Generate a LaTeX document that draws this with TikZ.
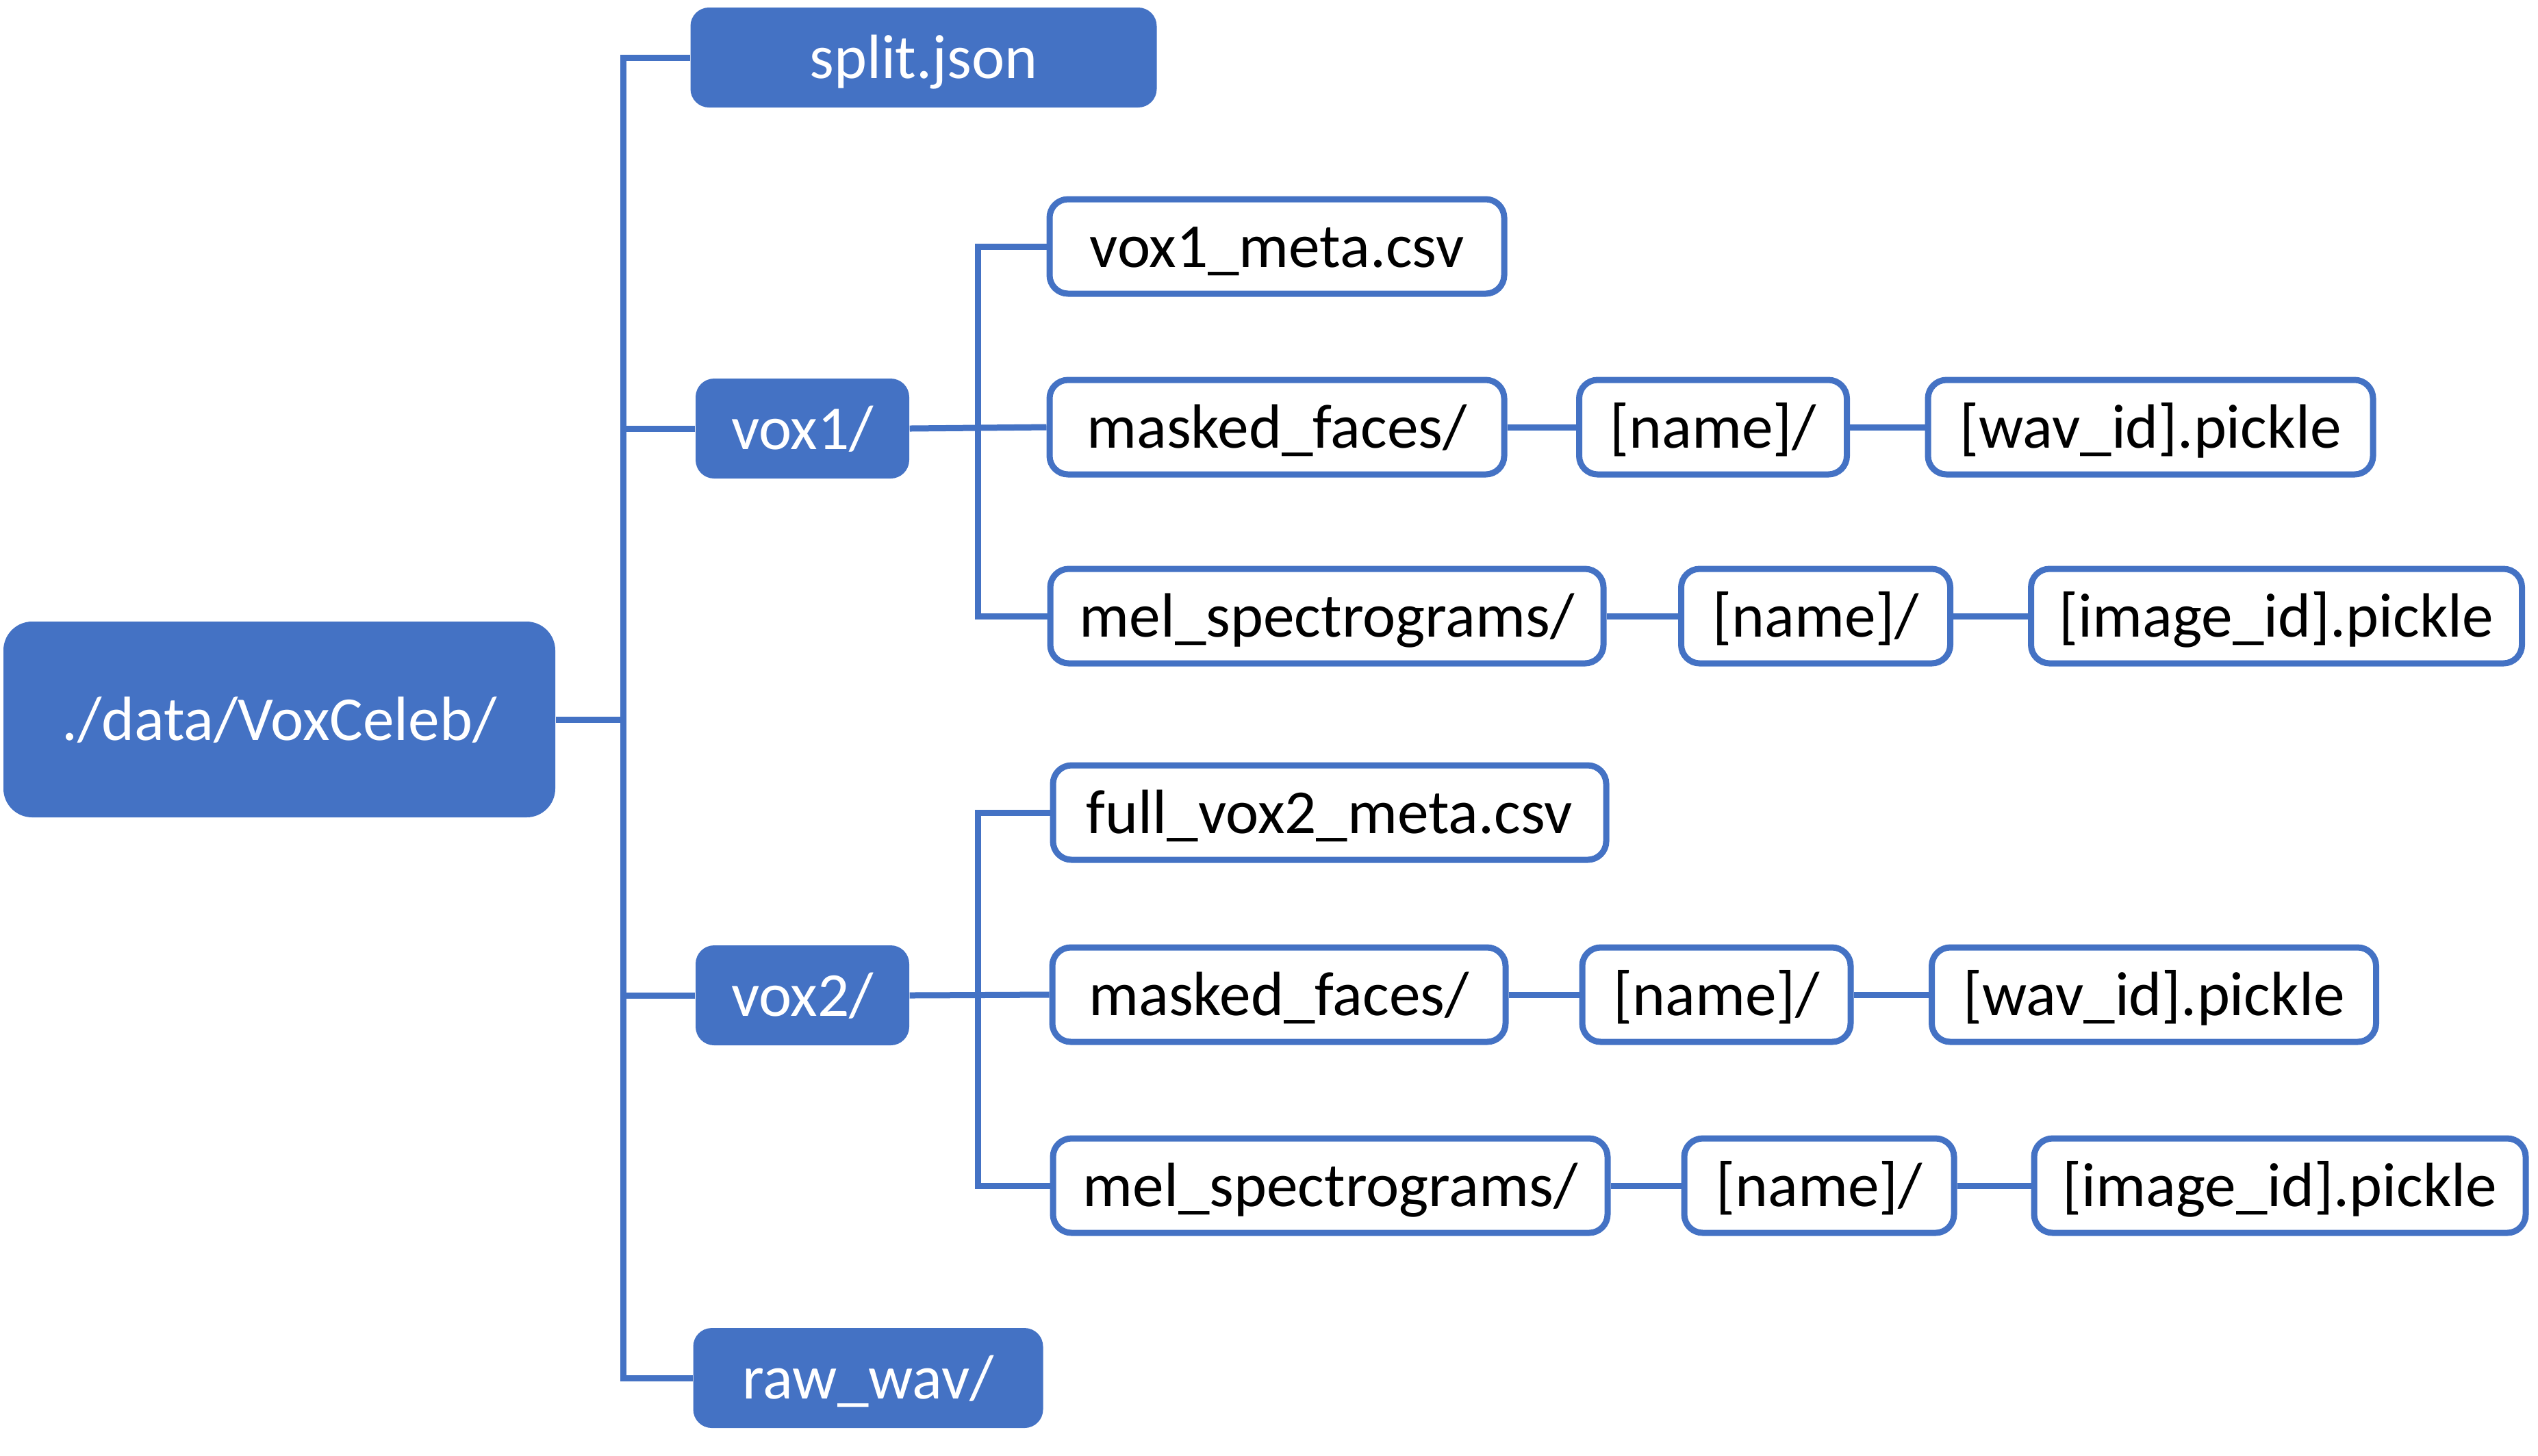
\documentclass[tikz,border=0pt]{standalone}
\usepackage{fontspec}
\setmainfont{Carlito}
\usepackage{tikz}
\usetikzlibrary{calc}
\definecolor{dirblue}{HTML}{4472C4}
\tikzset{
	conn/.style={draw=dirblue, line width=0.09cm},
	dirbox/.style={fill=dirblue, draw=none, rounded corners=0.27cm, text=white, inner sep=0pt, minimum height=1.46cm, text height=0.78cm, text depth=0.18cm},
	filebox/.style={fill=white, draw=dirblue, line width=0.09cm, rounded corners=0.27cm, text=black, inner sep=0pt, minimum height=1.38cm, text height=0.78cm, text depth=0.18cm}
}

\begin{document}
\begin{tikzpicture}[font=\fontsize{26}{31}\selectfont]
		%%%%% START %%%%%
		\useasboundingbox (0, 0) rectangle (37.07, -21.26);
		
		\node[dirbox, minimum width=8.06cm, minimum height=2.86cm, rounded corners=0.42cm] (root) at (4.08, -10.51) {./data/VoxCeleb/};
		
		\node[dirbox, minimum width=6.81cm] (split) at (13.49, -0.84) {split.json};
		\node[dirbox, minimum width=3.12cm] (vox1) at (11.72, -6.26) {vox1/};
		\node[dirbox, minimum width=3.12cm] (vox2) at (11.72, -14.54) {vox2/};
		\node[dirbox, minimum width=5.11cm] (rawwav) at (12.68, -20.13) {raw\_wav/};
		
		\node[filebox, minimum width=6.64cm] (meta1) at (18.65, -3.60) {vox1\_meta.csv};
		\node[filebox, minimum width=6.64cm] (masked1) at (18.65, -6.24) {masked\_faces/};
		\node[filebox, minimum width=3.91cm] (name1) at (25.02, -6.24) {[name]/};
		\node[filebox, minimum width=6.50cm] (wav1) at (31.41, -6.24) {[wav\_id].pickle};
		\node[filebox, minimum width=8.08cm] (mel1) at (19.38, -9.00) {mel\_spectrograms/};
		\node[filebox, minimum width=3.93cm] (name2) at (26.52, -9.00) {[name]/};
		\node[filebox, minimum width=7.17cm] (img1) at (33.25, -9.00) {[image\_id].pickle};
		
		\node[filebox, minimum width=8.08cm] (meta2) at (19.42, -11.87) {full\_vox2\_meta.csv};
		\node[filebox, minimum width=6.62cm] (masked2) at (18.68, -14.53) {masked\_faces/};
		\node[filebox, minimum width=3.92cm] (name3) at (25.07, -14.53) {[name]/};
		\node[filebox, minimum width=6.49cm] (wav2) at (31.46, -14.53) {[wav\_id].pickle};
		\node[filebox, minimum width=8.10cm] (mel2) at (19.43, -17.32) {mel\_spectrograms/};
		\node[filebox, minimum width=3.94cm] (name4) at (26.57, -17.32) {[name]/};
		\node[filebox, minimum width=7.18cm] (img2) at (33.30, -17.32) {[image\_id].pickle};
		
		% trunks
		\coordinate (tr) at (9.10, 0);
		\coordinate (sa) at (14.28, 0);
		
		\draw[conn] (split.west) -- (split.west -| tr) -- (rawwav.west -| tr) -- (rawwav.west);
		\draw[conn] (root.east) -- (root.east -| tr);
		\draw[conn] (vox1.west) -- (vox1.west -| tr);
		\draw[conn] (vox2.west) -- (vox2.west -| tr);
		
		\draw[conn] (meta1.west) -- (meta1.west -| sa) -- (mel1.west -| sa) -- (mel1.west);
		\draw[conn] (vox1.east) -- (masked1.west);
		\draw[conn] (masked1.east) -- (name1.west);
		\draw[conn] (name1.east) -- (wav1.west);
		\draw[conn] (mel1.east) -- (name2.west);
		\draw[conn] (name2.east) -- (img1.west);
		
		\draw[conn] (meta2.west) -- (meta2.west -| sa) -- (mel2.west -| sa) -- (mel2.west);
		\draw[conn] (vox2.east) -- (masked2.west);
		\draw[conn] (masked2.east) -- (name3.west);
		\draw[conn] (name3.east) -- (wav2.west);
		\draw[conn] (mel2.east) -- (name4.west);
		\draw[conn] (name4.east) -- (img2.west);
		
		%%%%% END %%%%%
	\end{tikzpicture}
\end{document}
